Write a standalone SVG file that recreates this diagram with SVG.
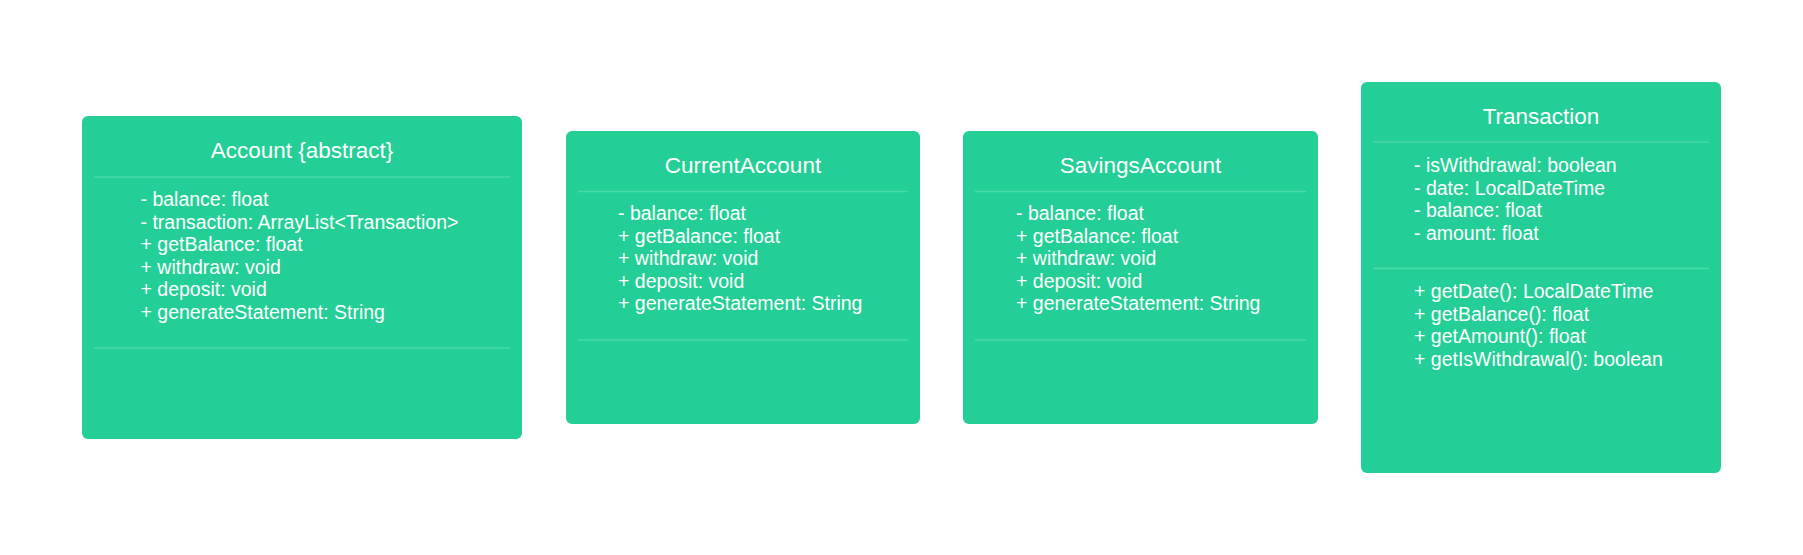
<svg xmlns="http://www.w3.org/2000/svg" width="1803" height="555" viewBox="0 0 1803 555">
<style>
.box{fill:#23cf96;}
.div{stroke:#4bd9a7;stroke-width:1.5;}
.title{font-family:"Liberation Sans",Arial,sans-serif;font-size:22.5px;fill:#ffffff;text-anchor:middle;}
.txt{font-family:"Liberation Sans",Arial,sans-serif;font-size:19.5px;fill:#ffffff;}
</style>
<rect width="1803" height="555" fill="#ffffff"/>
<g id="connectors"></g>
<g id="account">
<rect class="box" x="82" y="116" width="440" height="323" rx="6"/>
<text class="title" x="302" y="158">Account {abstract}</text>
<line class="div" x1="94" y1="177" x2="510" y2="177"/>
<text class="txt" x="140.5" y="206">- balance: float</text>
<text class="txt" x="140.5" y="228.5">- transaction: ArrayList&lt;Transaction&gt;</text>
<text class="txt" x="140.5" y="251">+ getBalance: float</text>
<text class="txt" x="140.5" y="273.5">+ withdraw: void</text>
<text class="txt" x="140.5" y="296">+ deposit: void</text>
<text class="txt" x="140.5" y="318.5">+ generateStatement: String</text>
<line class="div" x1="94" y1="348" x2="510" y2="348"/>
</g>
<g id="currentaccount">
<rect class="box" x="566" y="131" width="354" height="293" rx="6"/>
<text class="title" x="743" y="173">CurrentAccount</text>
<line class="div" x1="578" y1="191.5" x2="908" y2="191.5"/>
<text class="txt" x="618" y="220">- balance: float</text>
<text class="txt" x="618" y="242.5">+ getBalance: float</text>
<text class="txt" x="618" y="265">+ withdraw: void</text>
<text class="txt" x="618" y="287.5">+ deposit: void</text>
<text class="txt" x="618" y="310">+ generateStatement: String</text>
<line class="div" x1="578" y1="340" x2="908" y2="340"/>
</g>
<g id="savingsaccount">
<rect class="box" x="963" y="131" width="355" height="293" rx="6"/>
<text class="title" x="1140.5" y="173">SavingsAccount</text>
<line class="div" x1="975" y1="191.5" x2="1306" y2="191.5"/>
<text class="txt" x="1016" y="220">- balance: float</text>
<text class="txt" x="1016" y="242.5">+ getBalance: float</text>
<text class="txt" x="1016" y="265">+ withdraw: void</text>
<text class="txt" x="1016" y="287.5">+ deposit: void</text>
<text class="txt" x="1016" y="310">+ generateStatement: String</text>
<line class="div" x1="975" y1="340" x2="1306" y2="340"/>
</g>
<g id="transaction">
<rect class="box" x="1361" y="82" width="360" height="391" rx="6"/>
<text class="title" x="1541" y="124">Transaction</text>
<line class="div" x1="1373" y1="142" x2="1709" y2="142"/>
<text class="txt" x="1414" y="172">- isWithdrawal: boolean</text>
<text class="txt" x="1414" y="194.5">- date: LocalDateTime</text>
<text class="txt" x="1414" y="217">- balance: float</text>
<text class="txt" x="1414" y="239.5">- amount: float</text>
<line class="div" x1="1373" y1="268.5" x2="1709" y2="268.5"/>
<text class="txt" x="1414" y="298">+ getDate(): LocalDateTime</text>
<text class="txt" x="1414" y="320.5">+ getBalance(): float</text>
<text class="txt" x="1414" y="343">+ getAmount(): float</text>
<text class="txt" x="1414" y="365.5">+ getIsWithdrawal(): boolean</text>
</g>
</svg>
